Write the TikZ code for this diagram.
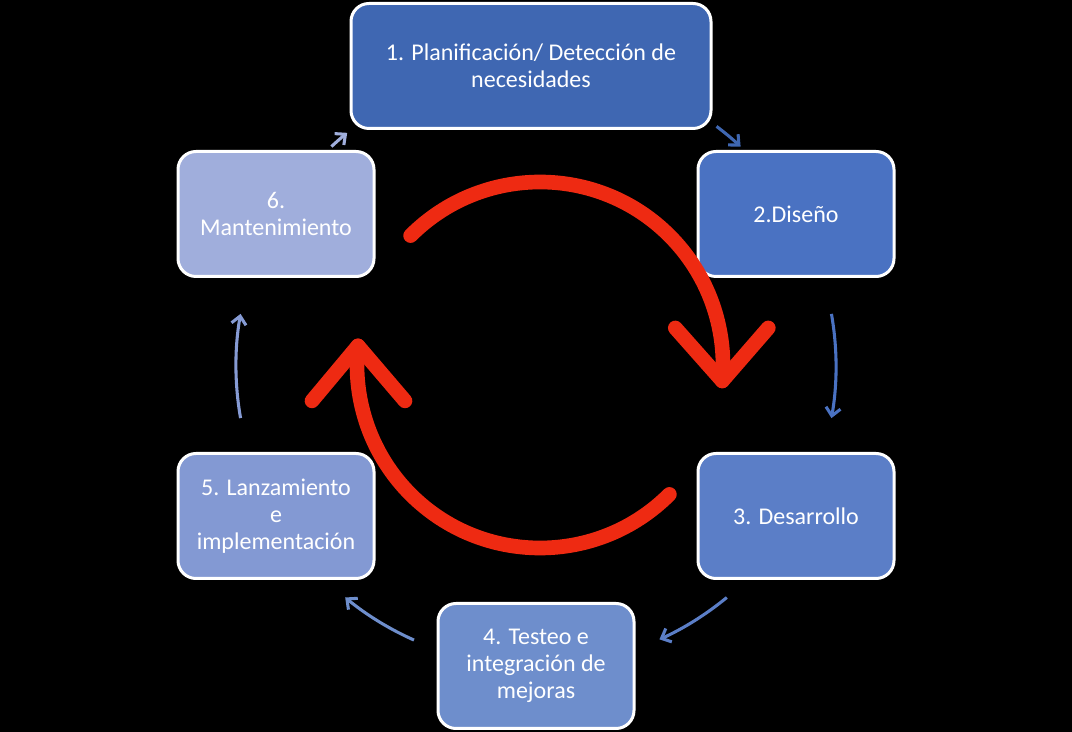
\documentclass[tikz,border=0pt]{standalone}
\usepackage{fontspec}
\setmainfont{Carlito}
\usepackage{tikz}
\usetikzlibrary{arrows.meta,calc,positioning}
\definecolor{stepA}{HTML}{3F67B2}
\definecolor{stepB}{HTML}{4A72C2}
\definecolor{stepC}{HTML}{5B7EC7}
\definecolor{stepD}{HTML}{6E8ECC}
\definecolor{stepE}{HTML}{8399D3}
\definecolor{stepF}{HTML}{A0AEDC}
\definecolor{cycred}{HTML}{EE2A12}

\begin{document}
\begin{tikzpicture}[x=0.75pt, y=0.75pt,
    phase/.style={draw=white, line width=2.25pt, rounded corners=13.5pt, text=white, align=center,
        inner sep=0pt, minimum width=147pt, minimum height=93.75pt, font=\fontsize{18}{20.3}\selectfont},
    link/.style={line width=2.3pt, -{Straight Barb[length=6pt,width=11pt]}},
    cycle/.style={draw=cycred, line width=11pt, line cap=round, line join=round}]
    \fill[black] (0,0) rectangle (1072,732);
    \useasboundingbox (0,0) rectangle (1072,732);
    \node[phase, fill=stepA, minimum width=270pt] (plan) at (531,666) {1. Planificación/ Detección de\\necesidades};
    \node[phase, fill=stepB] (design) at (796,518) {2.Diseño};
    \node[phase, fill=stepC] (dev) at (796,216) {3. Desarrollo};
    \node[phase, fill=stepD] (test) at (536,66) {4. Testeo e\\integración de\\mejoras};
    \node[phase, fill=stepE] (launch) at (276,216) {5. Lanzamiento\\e\\implementación};
    \node[phase, fill=stepF] (maint) at (276,518) {6.\\Mantenimiento};
    \coordinate (mid) at (536,366);
    \draw[link, stepA] (mid) ++(53:300) arc[start angle=53, end angle=47, radius=300];
    \draw[link, stepB] (mid) ++(10:300) arc[start angle=10, end angle=-10, radius=300];
    \draw[link, stepC] (mid) ++(-50.5:300) arc[start angle=-50.5, end angle=-65.7, radius=300];
    \draw[link, stepD] (mid) ++(-114:300) arc[start angle=-114, end angle=-129.5, radius=300];
    \draw[link, stepE!90!stepF] (mid) ++(-170:300) arc[start angle=-170, end angle=-190, radius=300];
    \draw[link, stepF] (mid) ++(133:300) arc[start angle=133, end angle=129, radius=300];
    \coordinate (hub) at (540,367);
    \coordinate (tipR) at ($(hub)+(-5:183)$);
    \coordinate (tipL) at ($(hub)+(174:183)$);
    \draw[cycle] (hub) ++(135:183) arc[start angle=135, end angle=-5, radius=183];
    \draw[cycle] ($(tipR)+(-47,53)$) -- (tipR) -- ($(tipR)+(46,53)$);
    \draw[cycle] (hub) ++(-45:183) arc[start angle=-45, end angle=-186, radius=183];
    \draw[cycle] ($(tipL)+(-46,-55)$) -- (tipL) -- ($(tipL)+(47,-55)$);
\end{tikzpicture}
\end{document}
